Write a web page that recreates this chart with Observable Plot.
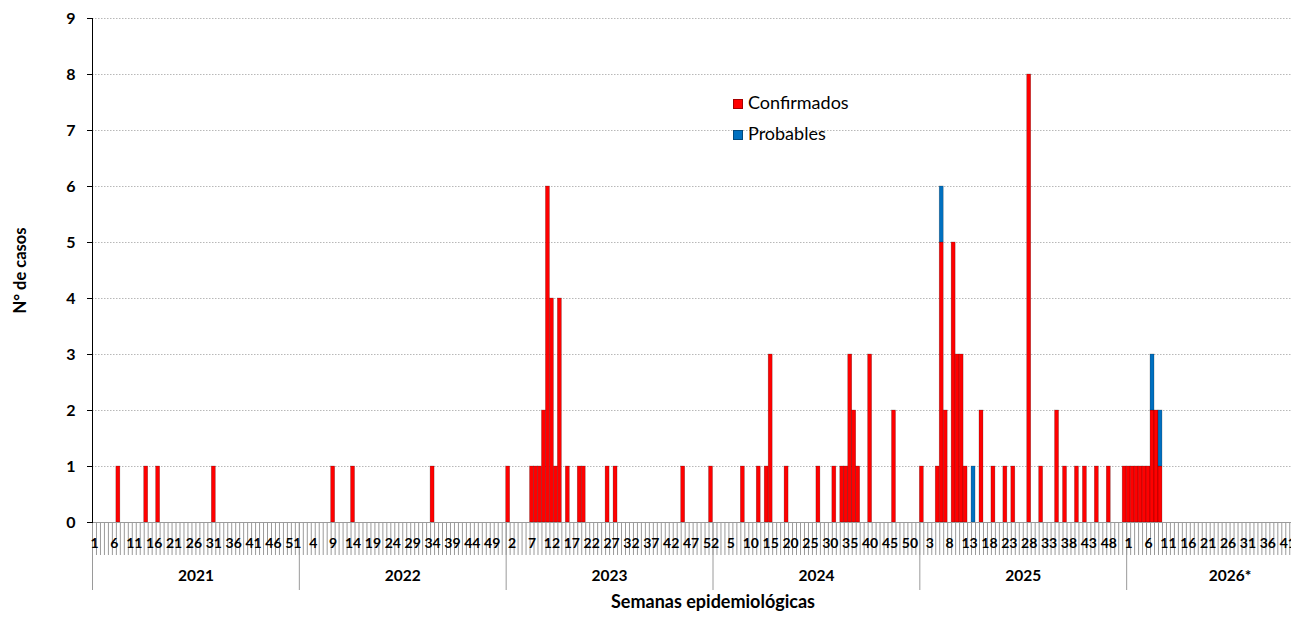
<!DOCTYPE html>
<html>
<head>
<meta charset="utf-8">
<script src="https://cdn.jsdelivr.net/npm/d3@7"></script>
<script src="https://cdn.jsdelivr.net/npm/@observablehq/plot@0.6"></script>
<style>
  html, body { margin: 0; padding: 0; background: #fff; overflow: hidden; }
  #wrap { position: relative; width: 1345px; height: 621px; font-family: Lato, "Open Sans", sans-serif; }
  #legend { position: absolute; left: 733px; top: 87px; font-size: 18px; color: #000; line-height: 31px; }
  #legend .sw { display: inline-block; width: 10px; height: 10px; margin-right: 5px; box-sizing: border-box; border: 1px solid rgba(0,0,0,0.35); vertical-align: 0px; }
</style>
</head>
<body>
<div id="wrap"></div>
<script>
// ---- data ----
const years = ["2021", "2022", "2023", "2024", "2025", "2026*"];
const firstYear = 2021;
const weeksPerYear = 52;
const tipos = ["Confirmados", "Probables"];
const colores = ["#ff0000", "#0070c0"];
const yTicks = [0, 1, 2, 3, 4, 5, 6, 7, 8, 9];

// [year, epidemiological week, cases]
const confirmados = [
  [2021, 7, 1], [2021, 14, 1], [2021, 17, 1], [2021, 31, 1],
  [2022, 9, 1], [2022, 14, 1], [2022, 34, 1],
  [2023, 1, 1], [2023, 7, 1], [2023, 8, 1], [2023, 9, 1], [2023, 10, 2], [2023, 11, 6],
  [2023, 12, 4], [2023, 13, 1], [2023, 14, 4], [2023, 16, 1], [2023, 19, 1], [2023, 20, 1],
  [2023, 26, 1], [2023, 28, 1], [2023, 45, 1], [2023, 52, 1],
  [2024, 8, 1], [2024, 12, 1], [2024, 14, 1], [2024, 15, 3], [2024, 19, 1], [2024, 27, 1],
  [2024, 31, 1], [2024, 33, 1], [2024, 34, 1], [2024, 35, 3], [2024, 36, 2], [2024, 37, 1],
  [2024, 40, 3], [2024, 46, 2],
  [2025, 1, 1], [2025, 5, 1], [2025, 6, 5], [2025, 7, 2], [2025, 9, 5], [2025, 10, 3],
  [2025, 11, 3], [2025, 12, 1], [2025, 16, 2], [2025, 19, 1], [2025, 22, 1], [2025, 24, 1],
  [2025, 28, 8], [2025, 31, 1], [2025, 35, 2], [2025, 37, 1], [2025, 40, 1], [2025, 42, 1],
  [2025, 45, 1], [2025, 48, 1], [2025, 52, 1],
  [2026, 1, 1], [2026, 2, 1], [2026, 3, 1], [2026, 4, 1], [2026, 5, 1], [2026, 6, 1],
  [2026, 7, 2], [2026, 8, 2], [2026, 9, 1]
];
const probables = [
  [2025, 6, 1], [2025, 14, 1], [2026, 7, 1], [2026, 9, 1]
];

// ---- derived table ----
const toIndex = (y, w) => (y - firstYear) * weeksPerYear + (w - 1);
const rows = [
  ...confirmados.map(([y, w, v]) => ({i: toIndex(y, w), value: v, tipo: tipos[0]})),
  ...probables.map(([y, w, v]) => ({i: toIndex(y, w), value: v, tipo: tipos[1]}))
];

const W = 1345, H = 621, ML = 92, MR = 12, MT = 18, MB = 99;
const N = years.length * weeksPerYear;
const idx = d3.range(N);
const bw = (W - ML - MR) / N;
const weekOf = i => String(i % weeksPerYear + 1);
const yearStarts = years.map((_, k) => k * weeksPerYear);
const yearMids = years.map((_, k) => k * weeksPerYear + weeksPerYear / 2);

const chart = Plot.plot({
  width: W, height: H,
  marginLeft: ML, marginRight: MR, marginTop: MT, marginBottom: MB,
  style: {fontFamily: "Lato, 'Open Sans', sans-serif", background: "white", color: "#000", overflow: "visible"},
  x: {type: "band", domain: idx, padding: 0, axis: null},
  y: {domain: [0, 9], axis: null},
  color: {domain: tipos, range: colores},
  marks: [
    Plot.gridY(yTicks.slice(1), {stroke: "#b8b8b8", strokeOpacity: 1, strokeDasharray: "1.5,1.5"}),
    Plot.barY(rows, {x: "i", y: "value", fill: "tipo", stroke: "rgba(0,0,0,0.35)", strokeWidth: 0.6}),
    Plot.axisX(idx, {tickSize: 33, tickFormat: () => "", dx: -bw / 2, stroke: "#9a9a9a", label: null}),
    Plot.axisX(yearStarts, {tickSize: 68, tickFormat: () => "", dx: -bw / 2, stroke: "#9a9a9a", label: null}),
    Plot.axisX(idx.filter(i => i % 5 === 0), {tickSize: 0, tickPadding: 16, tickFormat: weekOf, fontWeight: "bold", fontSize: 14, fill: "#000", label: null}),
    Plot.axisX(yearMids, {tickSize: 0, tickPadding: 47, tickFormat: i => years[Math.floor(i / weeksPerYear)], dx: -bw / 2, fontWeight: "bold", fontSize: 15.5, fill: "#000", label: null}),
    Plot.ruleY([0], {stroke: "#9a9a9a"}),
    Plot.axisY(yTicks, {tickSize: 5, tickPadding: 12, tickFormat: d3.format("d"), fontWeight: "bold", fontSize: 16, label: null}),
    Plot.frame({anchor: "left", stroke: "#000"}),
    Plot.text(["N° de casos"], {frameAnchor: "left", textAnchor: "middle", dx: -72, rotate: -90, fontWeight: "bold", fontSize: 16.5, fill: "#000"}),
    Plot.text(["Semanas epidemiológicas"], {frameAnchor: "bottom", dy: 85, fontWeight: "bold", fontSize: 18, fill: "#000"})
  ]
});
const wrap = document.getElementById("wrap");
wrap.appendChild(chart);

const legend = document.createElement("div");
legend.id = "legend";
legend.innerHTML = tipos.map((t, k) =>
  `<div><span class="sw" style="background:${colores[k]}"></span>${t}</div>`).join("");
wrap.appendChild(legend);
</script>
</body>
</html>
